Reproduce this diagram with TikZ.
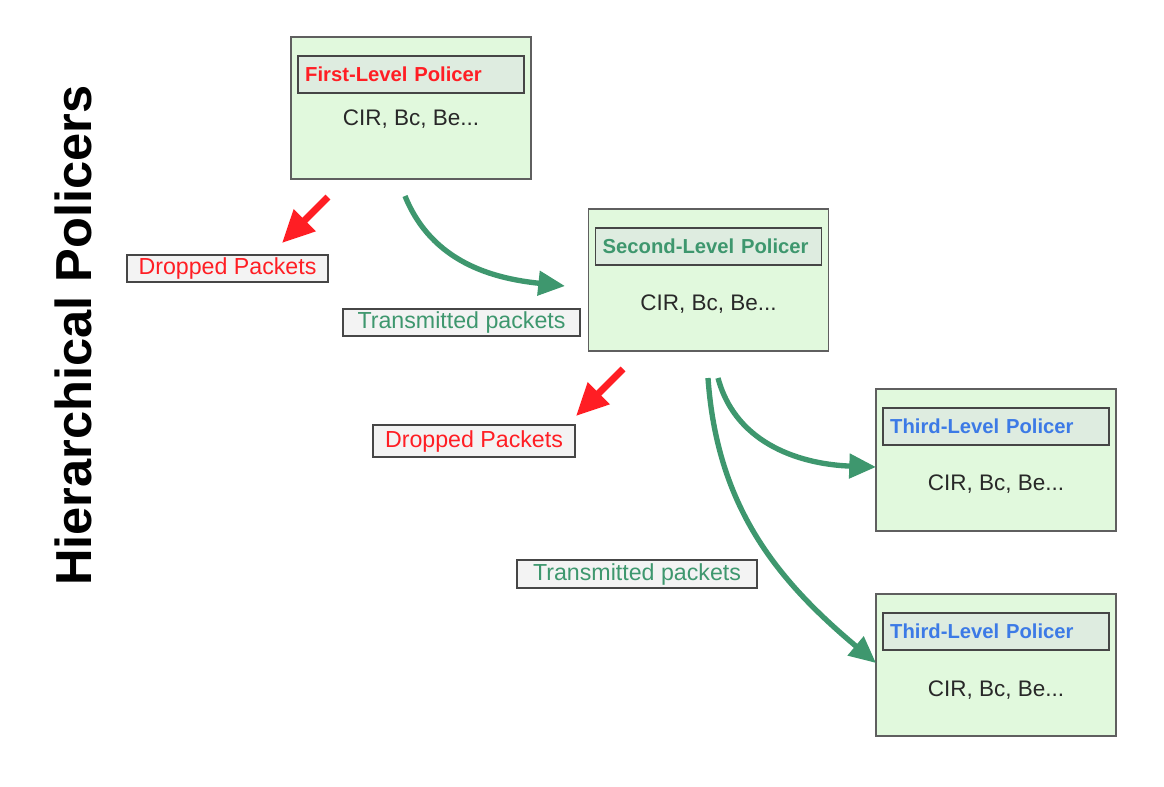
\documentclass[tikz,border=0pt]{standalone}
\usepackage{fontspec}
\setmainfont{Liberation Sans}
\usepackage{xcolor}
\usepackage{tikz}
\usetikzlibrary{arrows.meta}
\definecolor{boxgreen}{RGB}{225,249,221}
\definecolor{namegreen}{RGB}{222,236,224}
\definecolor{boxline}{RGB}{95,95,95}
\definecolor{nameline}{RGB}{70,70,70}
\definecolor{tagfill}{RGB}{243,243,243}
\definecolor{dropred}{RGB}{255,30,36}
\definecolor{passgreen}{RGB}{62,151,110}
\definecolor{levelblue}{RGB}{60,122,230}
\definecolor{paramgray}{RGB}{40,40,40}

\begin{document}
\begin{tikzpicture}[scale=0.25]
\tikzstyle{every node}+=[inner sep=0pt]
\tikzstyle{policer}=[draw=boxline, line width=1.3pt, fill=boxgreen, minimum width=6cm, minimum height=3.55cm]
\tikzstyle{levelname}=[draw=nameline, line width=1.3pt, fill=namegreen, minimum height=0.925cm, inner xsep=0.18cm, text width=5.29cm, align=left, font=\bfseries\fontsize{14.4}{17}\selectfont]
\tikzstyle{params}=[text=paramgray, font=\fontsize{16}{19}\selectfont]
\tikzstyle{pkttag}=[draw=nameline, line width=1.3pt, fill=tagfill, font=\fontsize{16.5}{19}\selectfont]
\tikzstyle{droparrow}=[dropred, line width=4.8pt, -{Triangle[length=23pt,width=21pt]}]
\tikzstyle{passarrow}=[passgreen, line width=3.8pt, -{Triangle[length=19pt,width=17pt]}]
\useasboundingbox (0,0) rectangle (116.4,-78.6);
\node [rotate=90, font=\bfseries\fontsize{36}{40}\selectfont] (heading) at (7.3,-33.55) {Hierarchical Policers};
\node [policer] (b1) at (41.1,-10.8) {};
\node [levelname, text=dropred] (t1) at (41.1,-7.45) {First-Level Policer};
\node [params] (p1) at (41.1,-11.9) {CIR, Bc, Be...};
\node [policer] (b2) at (70.85,-28.0) {};
\node [levelname, text=passgreen] (t2) at (70.85,-24.65) {Second-Level Policer};
\node [params] (p2) at (70.85,-30.45) {CIR, Bc, Be...};
\node [policer] (b3) at (99.6,-46.0) {};
\node [levelname, text=levelblue] (t3) at (99.6,-42.65) {Third-Level Policer};
\node [params] (p3) at (99.6,-48.45) {CIR, Bc, Be...};
\node [policer] (b4) at (99.6,-66.5) {};
\node [levelname, text=levelblue] (t4) at (99.6,-63.15) {Third-Level Policer};
\node [params] (p4) at (99.6,-69.0) {CIR, Bc, Be...};
\node [pkttag, text=dropred, minimum width=5.025cm, minimum height=0.675cm] (drop1) at (22.75,-26.85) {Dropped Packets};
\node [pkttag, text=passgreen, minimum width=5.925cm, minimum height=0.675cm] (pass1) at (46.15,-32.25) {Transmitted packets};
\node [pkttag, text=dropred, minimum width=5.05cm, minimum height=0.8cm] (drop2) at (47.4,-44.1) {Dropped Packets};
\node [pkttag, text=passgreen, minimum width=6cm, minimum height=0.7cm] (pass2) at (63.7,-57.4) {Transmitted packets};
\coordinate (r1s) at (32.8,-19.7);
\coordinate (r1e) at (28.2,-24.3);
\coordinate (g1s) at (40.5,-19.6);
\coordinate (g1e) at (56.5,-28.6);
\coordinate (r2s) at (62.3,-36.9);
\coordinate (r2e) at (57.6,-41.6);
\coordinate (g2s) at (71.8,-37.8);
\coordinate (g2e) at (87.6,-46.7);
\coordinate (g3s) at (70.8,-37.8);
\coordinate (g3e) at (87.6,-66.3);
\draw [droparrow] (r1s) -- (r1e);
\draw [passarrow] (g1s) to [out=-68, in=174] (g1e);
\draw [droparrow] (r2s) -- (r2e);
\draw [passarrow] (g2s) to [out=-75, in=178] (g2e);
\draw [passarrow] (g3s) to [out=-86, in=140] (g3e);
\end{tikzpicture}
\end{document}
